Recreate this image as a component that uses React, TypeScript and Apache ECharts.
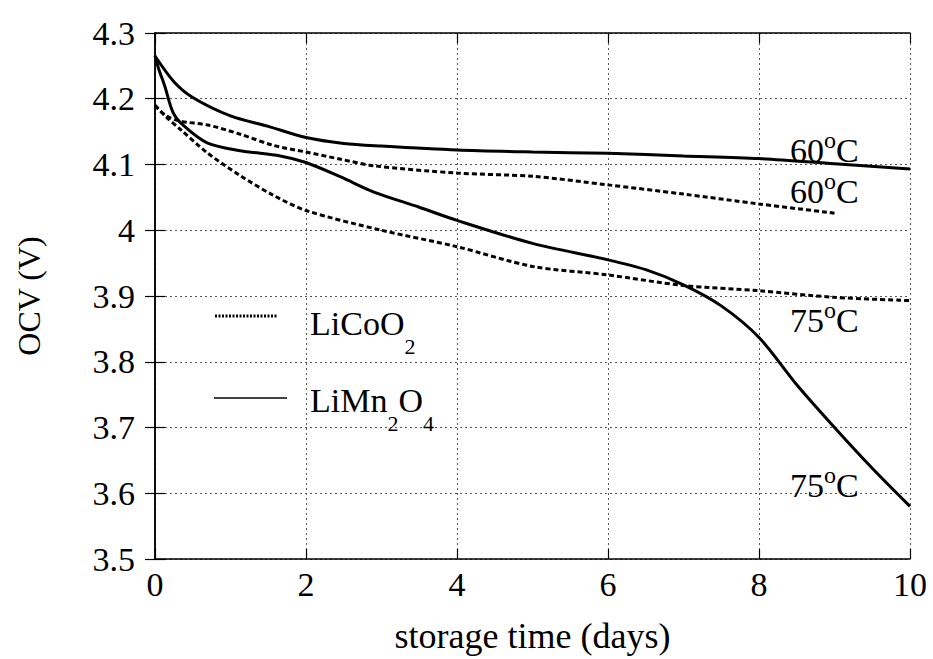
import React, { useEffect, useRef } from "react";
import * as echarts from "echarts";

const FONT = "Liberation Serif";

// LiMn2O4 at 60 °C (solid)
const mn60Days = [0, 0.25, 0.5, 1, 1.5, 2, 2.5, 3, 4, 5, 6, 7, 8, 9, 10];
const mn60Ocv = [4.265, 4.226, 4.202, 4.174, 4.158, 4.141, 4.132, 4.128, 4.122, 4.119, 4.117, 4.113, 4.109, 4.101, 4.093];

// LiMn2O4 at 75 °C (solid)
const mn75Days = [0, 0.05, 0.13, 0.24, 0.38, 0.69, 1.13, 1.66, 2, 2.46, 2.9, 3.5, 4, 5, 6, 6.5, 7, 7.5, 8, 8.5, 9, 9.5, 10];
const mn75Ocv = [4.265, 4.245, 4.219, 4.179, 4.159, 4.133, 4.121, 4.113, 4.103, 4.081, 4.058, 4.035, 4.015, 3.98, 3.955, 3.94, 3.917, 3.885, 3.837, 3.765, 3.7, 3.638, 3.58];

// LiCoO2 at 60 °C (dashed)
const co60Days = [0, 0.15, 0.33, 0.7, 1.13, 1.57, 2, 2.46, 2.9, 4, 5, 6, 7, 8, 9];
const co60Ocv = [4.19, 4.174, 4.166, 4.16, 4.146, 4.129, 4.119, 4.108, 4.098, 4.087, 4.082, 4.069, 4.055, 4.04, 4.026];

// LiCoO2 at 75 °C (dashed)
const co75Days = [0, 0.15, 0.33, 0.69, 1.13, 1.57, 2, 3, 4, 5, 6, 7, 8, 9, 10];
const co75Ocv = [4.19, 4.172, 4.154, 4.118, 4.083, 4.053, 4.03, 4.0, 3.975, 3.945, 3.932, 3.916, 3.908, 3.898, 3.893];

const curveLabels = ["60{sup|o}C", "60{sup|o}C", "75{sup|o}C", "75{sup|o}C"];
const legendNames = ["LiCoO{sub|2}", "LiMn{sub|2}O{sub|4}"];

const pairs = (xs: number[], ys: number[]) => xs.map((x, i) => [x, ys[i]]);

export default function App() {
  const ref = useRef<HTMLDivElement>(null);
  useEffect(() => {
    const chart = echarts.init(ref.current!, null, { renderer: "svg" });
    const solid = { color: "#000", width: 3, type: "solid" as const };
    const dashed = { color: "#000", width: 3, type: [5, 3] as any };
    const gridLine = { show: true, lineStyle: { color: "#555", width: 1, type: [2, 3] as any } };
    const axisLine = { show: true, lineStyle: { color: "#000", width: 1.5 } };
    const tick = { show: true, inside: true, length: 10, lineStyle: { color: "#000", width: 1.2 } };
    const labelStyle = { fontFamily: FONT, fontSize: 34, color: "#000" };
    const supRich = {
      base: { fontFamily: FONT, fontSize: 34, lineHeight: 44, fill: "#000" },
      sup: { fontFamily: FONT, fontSize: 24, lineHeight: 24, verticalAlign: "top", fill: "#000" },
    };
    const subRich = {
      sub: { fontFamily: FONT, fontSize: 22, lineHeight: 22, verticalAlign: "bottom", fill: "#000" },
    };
    const labelPos = [
      [790, 150],
      [790, 191],
      [790, 320],
      [790, 485],
    ];
    const lineSeries = (name: string, xs: number[], ys: number[], style: any) => ({
      name,
      type: "line",
      data: pairs(xs, ys),
      smooth: 0.3,
      showSymbol: false,
      lineStyle: style,
    });
    chart.setOption({
      animation: false,
      backgroundColor: "#fff",
      grid: { left: 155, right: 23, top: 33, bottom: 96, containLabel: false },
      xAxis: [
        {
          type: "value",
          min: 0,
          max: 10,
          interval: 2,
          position: "bottom",
          axisLine,
          axisTick: tick,
          splitLine: gridLine,
          axisLabel: { ...labelStyle, margin: 8 },
          name: "storage time (days)",
          nameLocation: "middle",
          nameGap: 59,
          nameTextStyle: { fontFamily: FONT, fontSize: 36, color: "#000" },
        },
        {
          type: "value",
          min: 0,
          max: 10,
          interval: 2,
          position: "top",
          axisLine,
          axisTick: tick,
          splitLine: { show: false },
          axisLabel: { show: false },
        },
      ],
      yAxis: [
        {
          type: "value",
          min: 3.5,
          max: 4.3,
          interval: 0.1,
          position: "left",
          axisLine,
          axisTick: tick,
          splitLine: gridLine,
          axisLabel: {
            ...labelStyle,
            margin: 20,
            formatter: (v: number) => (Math.abs(v - 4) < 1e-9 ? "4" : v.toFixed(1)),
          },
          name: "OCV (V)",
          nameLocation: "middle",
          nameGap: 110,
          nameTextStyle: { fontFamily: FONT, fontSize: 32, color: "#000" },
        },
        {
          type: "value",
          min: 3.5,
          max: 4.3,
          interval: 0.1,
          position: "right",
          axisLine,
          axisTick: tick,
          splitLine: { show: false },
          axisLabel: { show: false },
        },
      ],
      series: [
        lineSeries("LiMn2O4 60", mn60Days, mn60Ocv, solid),
        lineSeries("LiMn2O4 75", mn75Days, mn75Ocv, solid),
        lineSeries("LiCoO2 60", co60Days, co60Ocv, dashed),
        lineSeries("LiCoO2 75", co75Days, co75Ocv, dashed),
      ],
      graphic: [
        ...curveLabels.map((t, i) => ({
          type: "text",
          z: 100,
          style: {
            x: labelPos[i][0],
            y: labelPos[i][1],
            text: t.replace(/^(\d+)/, "{base|$1}").replace(/C$/, "{base|C}"),
            align: "left",
            verticalAlign: "middle",
            rich: supRich,
          },
        })),
        {
          type: "line",
          shape: { x1: 215, y1: 316, x2: 278, y2: 316 },
          style: { stroke: "#000", lineWidth: 3, lineDash: [2, 1.5] },
        },
        {
          type: "line",
          shape: { x1: 214, y1: 398, x2: 287, y2: 398 },
          style: { stroke: "#000", lineWidth: 1.5 },
        },
        ...legendNames.map((t, i) => ({
          type: "text",
          z: 100,
          style: {
            x: 310,
            y: i === 0 ? 323 : 400,
            text: t,
            align: "left",
            verticalAlign: "middle",
            fontFamily: FONT,
            fontSize: 34,
            lineHeight: 68,
            fill: "#000",
            rich: subRich,
          },
        })),
      ],
    });
    return () => chart.dispose();
  }, []);
  return (
    <div
      ref={ref}
      style={{ position: "fixed", left: 0, top: 0, width: 933, height: 659, background: "#fff" }}
    />
  );
}
